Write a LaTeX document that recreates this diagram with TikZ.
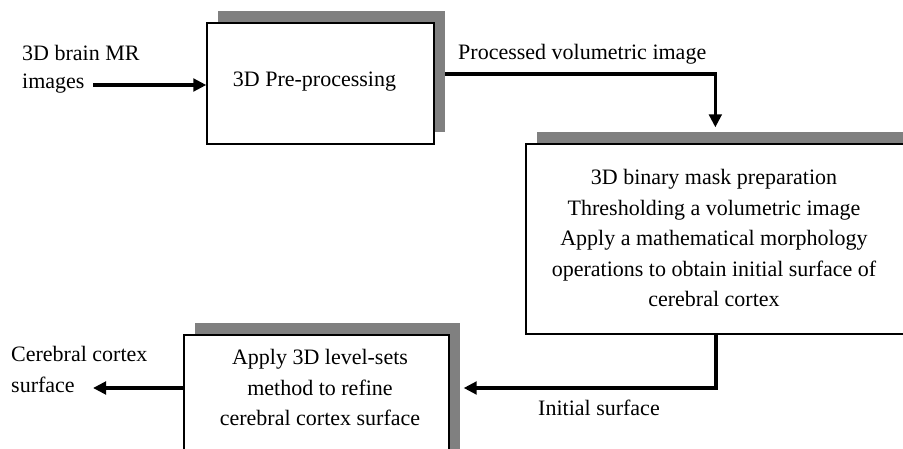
\documentclass[tikz,border=0pt]{standalone}
\usepackage{fontspec}
\setmainfont{Liberation Serif}
\usetikzlibrary{arrows.meta,shadows,calc,backgrounds}
\begin{document}
\begin{tikzpicture}[x=1pt,y=-1pt,
  stage/.style={draw=black, line width=1.3pt, fill=white, inner sep=0pt,
    drop shadow={shadow xshift=11pt, shadow yshift=12pt, fill=black!50, opacity=1}},
  flow/.style={line width=3.3pt, line join=miter, -{Triangle[length=13pt,width=12.5pt]}},
  txt/.style={font=\fontsize{22}{26}\selectfont, inner sep=0pt, anchor=base},
  lbl/.style={txt, anchor=base west}]
\useasboundingbox (0,0) rectangle (903,449);
\clip (0,0) rectangle (903,449);

% processing stages
\node[stage, minimum width=227pt, minimum height=121pt] (box1) at (320.5,83.5) {};
\node[stage, minimum width=414pt, minimum height=190pt] (box2) at (733,239) {};
\node[stage, minimum width=265pt, minimum height=135pt] (box3) at (316.5,402.5) {};

% texts inside the stages
\node[txt] (t1) at (314.5,87) {3D Pre-processing};
\node[txt] (t2a) at (714,185) {3D binary mask preparation};
\node[txt] (t2b) at (714,215.5) {Thresholding a volumetric image};
\node[txt] (t2c) at (714,246) {Apply a mathematical morphology};
\node[txt] (t2d) at (714,276.5) {operations to obtain initial surface of};
\node[txt] (t2e) at (714,307) {cerebral cortex};
\node[txt] (t3a) at (320,364) {Apply 3D level-sets};
\node[txt] (t3b) at (320,395) {method to refine};
\node[txt] (t3c) at (320,425) {cerebral cortex surface};

% data labels
\node[lbl] (inA) at (22,61) {3D brain MR};
\node[lbl] (inB) at (22,89) {images};
\node[lbl] (pv) at (458,60) {Processed volumetric image};
\node[lbl] (is) at (538,415) {Initial surface};
\node[lbl] (outA) at (11,362) {Cerebral cortex};
\node[lbl] (outB) at (11,392) {surface};

% connector points
\coordinate (src) at (93,85);
\coordinate (hl) at (0,74);
\coordinate (drop) at ($(box2.north west)+(190,-16)$);
\coordinate (turn) at (716,388);
\coordinate (sink) at (93,388);

\begin{scope}[on background layer]
  \draw[flow] (src) -- (src -| box1.west);
  \draw[flow] (box1.east |- hl) -| (drop);
  \draw[flow] (box2.south -| turn) -- (turn) -- ($(box3.east |- turn)+(14,0)$);
  \draw[flow] (box3.west |- turn) -- (sink);
\end{scope}
\end{tikzpicture}
\end{document}
